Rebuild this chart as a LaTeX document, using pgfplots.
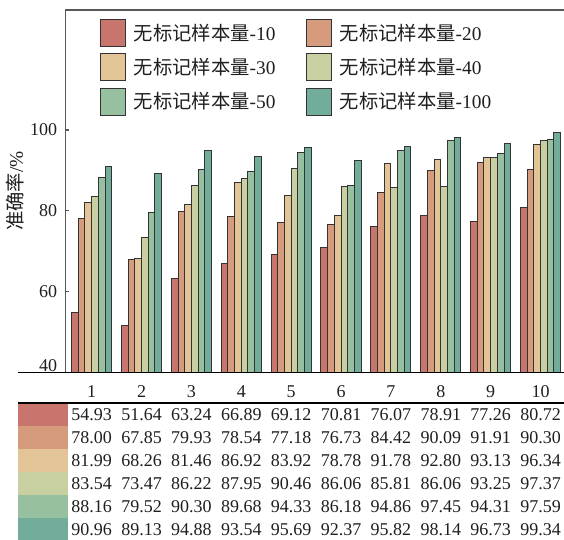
\documentclass[border=0pt]{standalone}
\usepackage{fontspec}
\setmainfont{Liberation Serif}
\newfontfamily\cjk{Noto Sans CJK SC}
\usepackage{pgfplots}
\pgfplotsset{compat=1.18}
\usepackage{pgfplotstable}
\usetikzlibrary{calc}

\definecolor{c1}{RGB}{200,117,110}
\definecolor{c2}{RGB}{213,155,124}
\definecolor{c3}{RGB}{226,196,150}
\definecolor{c4}{RGB}{200,207,160}
\definecolor{c5}{RGB}{150,192,160}
\definecolor{c6}{RGB}{114,172,155}

% accuracy per group, one column per amount of unlabelled samples
\pgfplotstableread{
g  s1    s2    s3    s4    s5    s6
1  54.93 78.00 81.99 83.54 88.16 90.96
2  51.64 67.85 68.26 73.47 79.52 89.13
3  63.24 79.93 81.46 86.22 90.30 94.88
4  66.89 78.54 86.92 87.95 89.68 93.54
5  69.12 77.18 83.92 90.46 94.33 95.69
6  70.81 76.73 78.78 86.06 86.18 92.37
7  76.07 84.42 91.78 85.81 94.86 95.82
8  78.91 90.09 92.80 86.06 97.45 98.14
9  77.26 91.91 93.13 93.25 94.31 96.73
10 80.72 90.30 96.34 97.37 97.59 99.34
}\acc

\newcommand\cn[1]{{\cjk #1}}

\begin{document}
\begin{tikzpicture}[font=\fontsize{13.5}{16}\selectfont, text=black!88]
\begin{axis}[
  scale only axis, width=373.9pt, height=271.9pt,
  xmin=0.475, xmax=10.47, ymin=40, ymax=129.7,
  axis x line*=bottom, axis y line*=left,
  axis line style={-, draw=black!65, line width=1.1pt},
  x axis line style={draw=black, line width=1.3pt},
  xtick={1,...,10}, ytick={60,80,100},
  extra y ticks={40},
  extra y tick style={yticklabel style={yshift=5.5pt}},
  xtick style={draw=none},
  ytick style={draw=black!65, line width=0.8pt},
  major tick length=2.5pt, tick align=inside,
  /pgf/number format/assume math mode=true,
  xticklabel style={anchor=center, yshift=-11.6pt},
  yticklabel style={anchor=east, inner sep=0pt, xshift=-6pt},
  ylabel={\cn{准确率}/\%},
  every axis y label/.style={at={(axis description cs:-0.1003,0.5)}, rotate=90, anchor=center, font=\fontsize{14.5}{17}\selectfont},
  ybar, bar width=0.134,
  every axis plot/.append style={draw=black!80, line width=0.75pt},
  legend columns=2,
  legend image code/.code={\draw[#1] (0pt,-10.1pt) rectangle (18.75pt,10.1pt);},
  legend style={draw=none, fill=none, at={(0,1)}, anchor=north west,
    xshift=25.5pt, yshift=-6.5pt, inner sep=0pt, row sep=4.9pt,
    font=\fontsize{14.5}{17}\selectfont,
    nodes={inner sep=0pt, text width=120pt, align=left, anchor=west},
    /tikz/every odd column/.append style={column sep=6pt},
    /tikz/every even column/.append style={column sep=9pt}},
]
\addplot[fill=c1, bar shift=-0.335] table[x=g, y=s1] {\acc};
\addplot[fill=c2, bar shift=-0.201] table[x=g, y=s2] {\acc};
\addplot[fill=c3, bar shift=-0.067] table[x=g, y=s3] {\acc};
\addplot[fill=c4, bar shift=0.067]  table[x=g, y=s4] {\acc};
\addplot[fill=c5, bar shift=0.201]  table[x=g, y=s5] {\acc};
\addplot[fill=c6, bar shift=0.335]  table[x=g, y=s6] {\acc};
\addlegendentry{\cn{无标记样本量}-10}
\addlegendentry{\cn{无标记样本量}-20}
\addlegendentry{\cn{无标记样本量}-30}
\addlegendentry{\cn{无标记样本量}-40}
\addlegendentry{\cn{无标记样本量}-50}
\addlegendentry{\cn{无标记样本量}-100}
\coordinate (o) at (axis cs:0,40);
\coordinate (u) at (axis cs:1,40);
\coordinate (sw) at (rel axis cs:0,0);
\coordinate (nw) at (rel axis cs:0,1);
\coordinate (ne) at (rel axis cs:1,1);
\end{axis}

% frame top and long base line
\draw[black!65, line width=1.1pt] (nw) -- (ne);
\draw[black, line width=1.3pt] ([xshift=-35.4pt]sw) -- (sw -| ne);

% data table under the bars
\foreach \k [count=\j from 0] in {1,...,6}{
  \fill[c\k] ([xshift=-35.4pt, yshift={-22.9pt-17.3pt*\j}]sw)
    rectangle ([xshift=2pt, yshift={-22.9pt-17.3pt*(\j+1)}]sw);
}
\draw[black, line width=1.1pt] ([xshift=-35.4pt, yshift=-22.9pt]sw) -- ([yshift=-22.9pt]sw -| ne);
\foreach \k [count=\j from 0] in {1,...,6}{
  \foreach \i in {0,...,9}{
    \pgfplotstablegetelem{\i}{s\k}\of\acc
    \let\v\pgfplotsretval
    \pgfmathtruncatemacro\xx{\i+1}
    \node[yshift={-31.5pt-17.3pt*\j}] at ($(o)!\xx!(u)$)
      {\pgfmathprintnumber[fixed, fixed zerofill, precision=2, assume math mode=true]{\v}};
  }
}

\pgfresetboundingbox
\path ([xshift=-49.1pt, yshift=-124.9pt]sw) rectangle ([yshift=7.5pt]ne);
\end{tikzpicture}
\end{document}
